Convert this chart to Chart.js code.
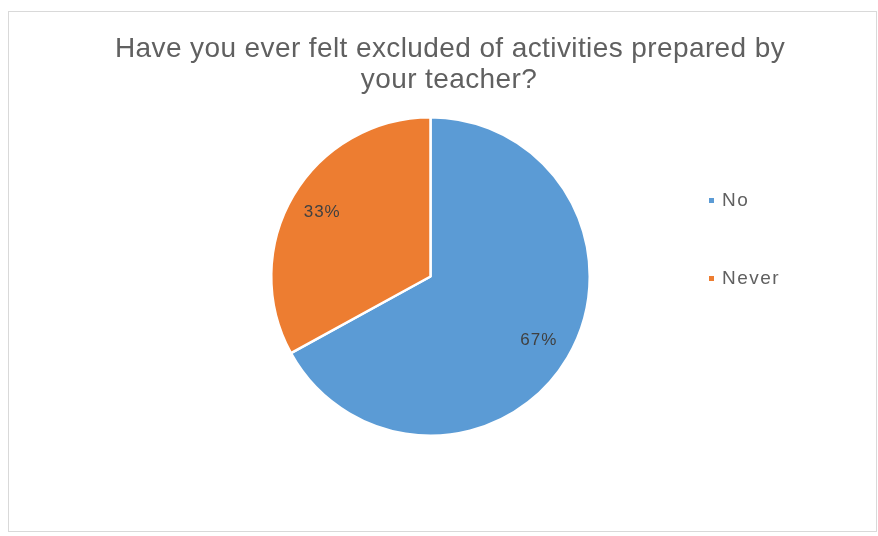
<!DOCTYPE html>
<html>
<head>
<meta charset="utf-8">
<script src="https://cdn.jsdelivr.net/npm/chart.js@4/dist/chart.umd.min.js"></script>
<style>
  html, body { margin: 0; padding: 0; background: #ffffff; }
  #wrap { width: 878px; height: 536px; position: relative; }
</style>
</head>
<body>
<div id="wrap"><canvas id="c" width="878" height="536"></canvas></div>
<script>
// Survey answers
const categories = ['No', 'Never'];
const values = [67, 33];
const sliceColors = ['#5B9BD5', '#ED7D31'];
const titleLines = ['Have you ever felt excluded of activities prepared by', 'your teacher?'];

const FONT = '"Liberation Sans", Arial, sans-serif';

// Frame, title, percentage labels and legend drawn on the chart canvas
const decorations = {
  id: 'decorations',
  beforeDraw(chart) {
    const ctx = chart.ctx;
    ctx.save();
    ctx.fillStyle = '#ffffff';
    ctx.fillRect(0, 0, chart.width, chart.height);
    ctx.strokeStyle = '#d9d9d9';
    ctx.lineWidth = 1;
    ctx.strokeRect(8.5, 11.5, 868, 520);
    ctx.restore();
  },
  afterDraw(chart) {
    const ctx = chart.ctx;
    ctx.save();
    // title
    ctx.fillStyle = '#606060';
    ctx.font = '28px ' + FONT;
    ctx.letterSpacing = '0.4px';
    ctx.textAlign = 'center';
    ctx.textBaseline = 'alphabetic';
    ctx.fillText(titleLines[0], 450, 57);
    ctx.fillText(titleLines[1], 449, 88);

    // percentage labels inside slices
    const meta = chart.getDatasetMeta(0);
    const total = values.reduce((a, b) => a + b, 0);
    ctx.font = '17px ' + FONT;
    ctx.letterSpacing = '1px';
    ctx.textBaseline = 'middle';
    ctx.fillStyle = '#404040';
    meta.data.forEach((arc, i) => {
      const mid = (arc.startAngle + arc.endAngle) / 2;
      const r = arc.outerRadius * 0.79;
      const x = arc.x + Math.cos(mid) * r;
      const y = arc.y + Math.sin(mid) * r;
      ctx.fillText(Math.round(values[i] / total * 100) + '%', x, y);
    });

    // legend
    ctx.font = '19px ' + FONT;
    ctx.letterSpacing = '1.5px';
    ctx.textAlign = 'left';
    const legendY = [201, 279];
    categories.forEach((name, i) => {
      ctx.fillStyle = sliceColors[i];
      ctx.fillRect(709, legendY[i] - 3, 5, 5);
      ctx.fillStyle = '#606060';
      ctx.fillText(name, 722, legendY[i]);
    });
    ctx.restore();
  }
};

new Chart(document.getElementById('c'), {
  type: 'pie',
  data: {
    labels: categories,
    datasets: [{
      data: values,
      backgroundColor: sliceColors,
      borderColor: '#ffffff',
      borderWidth: 2.5
    }]
  },
  options: {
    responsive: false,
    animation: false,
    layout: { padding: { left: 270, right: 287, top: 116, bottom: 99 } },
    plugins: {
      legend: { display: false },
      title: { display: false },
      tooltip: { enabled: false }
    }
  },
  plugins: [decorations]
});
</script>
</body>
</html>
